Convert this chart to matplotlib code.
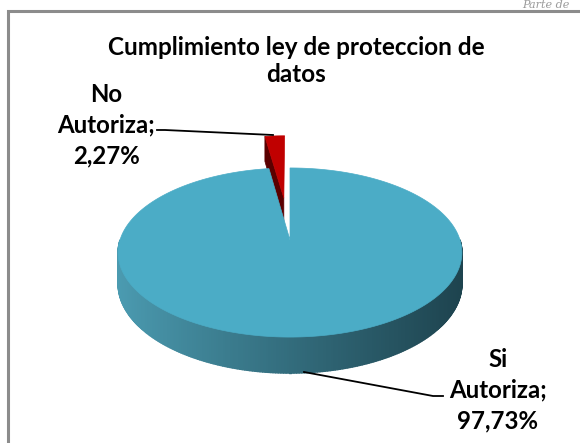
import numpy as np
import matplotlib
matplotlib.use("Agg")
import matplotlib.pyplot as plt
from matplotlib.collections import PolyCollection
from matplotlib.patches import Polygon

# ----------------------------------------------------------------------------
# Data
# ----------------------------------------------------------------------------
CATEGORIES = ["Si Autoriza", "No Autoriza"]
PERCENTS = [97.73, 2.27]
TITLE = "Cumplimiento ley de proteccion de\ndatos"

TOP_COLORS = ["#4BACC6", "#C00000"]
SIDE_LEFT = ["#4C9DB3", "#8A0000"]
SIDE_RIGHT = ["#1D424D", "#5A0000"]
EXPLODE = [0.0, 0.55]

# label anchors (pixel coords) and leader lines
LABEL_XY = [(498, 390), (106, 125)]
LEADERS = [[(304, 372), (433, 396), (443, 396)],
           [(157, 130), (165, 130), (273, 135)]]

# 3D-pie projection (pixel space, y down)
CX, CY = 290.0, 240.0
R, A, D, P = 170.0, 82.7, 30.7, 0.148
FONT = "Lato"


def proj(u, v, z=0.0):
    """u: right, v: back, z: 0 top face / 1 bottom face."""
    s = 1.0 / (1.0 + P * v)
    return CX + R * u * s, CY - A * v * s + D * z * s


def lerp_color(c0, c1, f):
    a = np.array(matplotlib.colors.to_rgb(c0))
    b = np.array(matplotlib.colors.to_rgb(c1))
    return tuple(a + (b - a) * f)


fig = plt.figure(figsize=(5.8, 4.43), dpi=100)
ax = fig.add_axes([0, 0, 1, 1])
ax.set_xlim(0, 580)
ax.set_ylim(443, 0)
ax.axis("off")

# chart frame (left + top edges visible)
ax.plot([8, 8, 580], [443, 11, 11], color="#8C8C8C", lw=2.2,
        solid_joinstyle="miter")
ax.text(522, 5, "Parte de", fontsize=8, color="#9A9A9A", style="italic",
        family="DejaVu Serif", va="center", ha="left")

total = float(sum(PERCENTS))
starts = np.cumsum([0] + PERCENTS[:-1]) / total * 360.0
ends = np.cumsum(PERCENTS) / total * 360.0
mids = (starts + ends) / 2

# back-to-front order
order = sorted(range(len(PERCENTS)), key=lambda i: -np.cos(np.radians(mids[i])))
x_left = proj(-1.0 / np.sqrt(1 - P ** 2), -P)[0] - 2
x_right = 2 * CX - x_left

for i in order:
    t0, t1 = np.radians(starts[i]), np.radians(ends[i])
    tm = np.radians(mids[i])
    ou, ov = EXPLODE[i] * np.sin(tm), EXPLODE[i] * np.cos(tm)

    # radial cut faces
    for t, sgn in ((t0, 1), (t1, -1)):
        if sgn * np.sin(t) < -1e-6:
            pts = [proj(ou, ov, 0), proj(ou + np.sin(t), ov + np.cos(t), 0),
                   proj(ou + np.sin(t), ov + np.cos(t), 1), proj(ou, ov, 1)]
            ax.add_patch(Polygon(pts, closed=True, facecolor=SIDE_RIGHT[i],
                                 edgecolor=SIDE_RIGHT[i], lw=0.5))

    # outer curved side (front half only)
    a0, a1 = max(starts[i], 90.0), min(ends[i], 270.0)
    if a1 > a0:
        ts = np.radians(np.linspace(a0, a1, 240))
        polys, cols = [], []
        for ta, tb in zip(ts[:-1], ts[1:]):
            pa = (ou + np.sin(ta), ov + np.cos(ta))
            pb = (ou + np.sin(tb), ov + np.cos(tb))
            quad = [proj(*pa, 0), proj(*pb, 0), proj(*pb, 1), proj(*pa, 1)]
            xm = (quad[0][0] + quad[1][0]) / 2
            f = np.clip((xm - x_left) / (x_right - x_left), 0, 1)
            polys.append(quad)
            cols.append(lerp_color(SIDE_LEFT[i], SIDE_RIGHT[i], f ** 0.9))
        ax.add_collection(PolyCollection(polys, facecolors=cols,
                                         edgecolors=cols, linewidths=1.0))

    # top face
    ts = np.radians(np.linspace(starts[i], ends[i], 400))
    pts = [proj(ou, ov, 0)] + [proj(ou + np.sin(t), ov + np.cos(t), 0)
                               for t in ts]
    ax.add_patch(Polygon(pts, closed=True, facecolor=TOP_COLORS[i],
                         edgecolor=TOP_COLORS[i], lw=0.5))

# title
ax.text(296, 61, TITLE, ha="center", va="center", fontsize=17.5,
        fontweight="bold", family=FONT, linespacing=1.18)

# data labels + leader lines
for cat, pct, (lx, ly), line in zip(CATEGORIES, PERCENTS, LABEL_XY, LEADERS):
    words = cat.split()
    txt = "\n".join(words) + ";\n" + f"{pct:.2f}%".replace(".", ",")
    ax.text(lx, ly, txt, ha="center", va="center", fontsize=17.3,
            fontweight="bold", family=FONT, linespacing=1.42)
    xs, ys = zip(*line)
    ax.plot(xs, ys, color="black", lw=1.3)

fig.savefig("out.png", dpi=100)
